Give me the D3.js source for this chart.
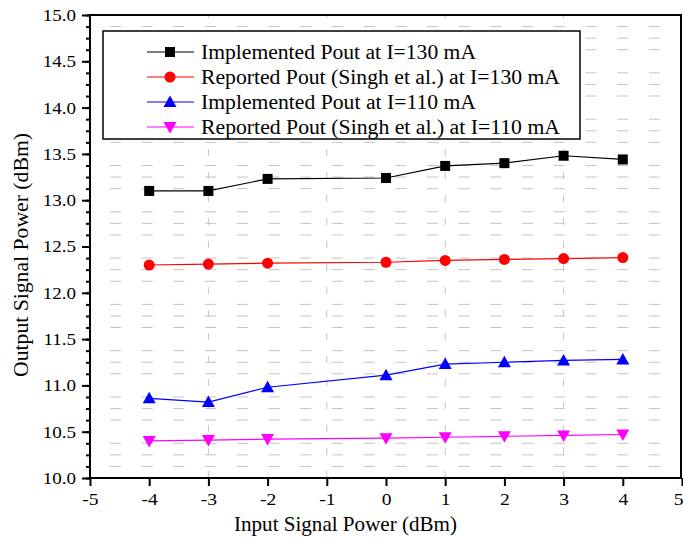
<!DOCTYPE html>
<html lang="en">
<head>
    <meta charset="UTF-8">
    <title>Output vs Input Signal Power</title>
    <script src="https://d3js.org/d3.v7.min.js"></script>
</head>
<style>
    body { margin: 0; background: #fff; }
    text { font-family: "Liberation Serif", "Times New Roman", serif; fill: #000; }
</style>
<body>
    <svg class="chart"></svg>
    <script>
        const W = 683, H = 539;

        // data
        const inputPower = [-4, -3, -2, 0, 1, 2, 3, 4];
        const impl130 = [13.10, 13.10, 13.23, 13.24, 13.37, 13.40, 13.48, 13.44];
        const singh130 = [12.30, 12.31, 12.32, 12.33, 12.35, 12.36, 12.37, 12.38];
        const impl110 = [10.86, 10.82, 10.98, 11.11, 11.23, 11.25, 11.27, 11.28];
        const singh110 = [10.40, 10.41, 10.42, 10.43, 10.44, 10.45, 10.46, 10.47];

        const seriesNames = [
            "Implemented Pout at I=130 mA",
            "Reported Pout (Singh et al.) at I=130 mA",
            "Implemented Pout at I=110 mA",
            "Reported Pout (Singh et al.) at I=110 mA"
        ];
        const xTicks = [-5, -4, -3, -2, -1, 0, 1, 2, 3, 4, 5];
        const yTicks = [10.0, 10.5, 11.0, 11.5, 12.0, 12.5, 13.0, 13.5, 14.0, 14.5, 15.0];

        const series = [
            { name: seriesNames[0], values: impl130, color: "#000000", shape: "square" },
            { name: seriesNames[1], values: singh130, color: "#ff0000", shape: "circle" },
            { name: seriesNames[2], values: impl110, color: "#0000ff", shape: "up" },
            { name: seriesNames[3], values: singh110, color: "#ff00ff", shape: "down" }
        ];

        const m = { left: 90, right: 1, top: 15, bottom: 61 };

        const svg = d3.select(".chart")
            .attr("width", W)
            .attr("height", H)
            .attr("viewBox", `0 0 ${W} ${H}`);

        const x = d3.scaleLinear().domain([-5, 5]).range([m.left, W - m.right]);
        const y = d3.scaleLinear().domain([10, 15]).range([H - m.bottom, m.top]);

        // stretch text horizontally a bit, like the original export
        function stretch(sel, k) {
            sel.each(function () {
                const n = this.getComputedTextLength();
                d3.select(this).attr("textLength", n * k).attr("lengthAdjust", "spacingAndGlyphs");
            });
        }

        // minor grid (dotted, light grey)
        const yMinor = d3.range(10, 15.0001, 0.125).filter(v => Math.abs(v * 2 - Math.round(v * 2)) > 1e-6);
        svg.append("g").selectAll("line")
            .data(yMinor)
            .join("line")
            .attr("x1", x(-5)).attr("x2", x(5))
            .attr("y1", d => y(d)).attr("y2", d => y(d))
            .attr("stroke", "#c4c4c4")
            .attr("stroke-width", 1)
            .attr("stroke-dasharray", "11 20.7")
            .attr("stroke-dashoffset", -20);

        svg.append("g").selectAll("line")
            .data([-3, -1, 1, 3])
            .join("line")
            .attr("x1", d => x(d)).attr("x2", d => x(d))
            .attr("y1", y(10)).attr("y2", y(15))
            .attr("stroke", "#c4c4c4")
            .attr("stroke-width", 1)
            .attr("stroke-dasharray", "7 16");

        // axes
        const xAxis = d3.axisBottom(x).tickValues(xTicks).tickFormat(d3.format("d")).tickSize(8).tickPadding(7);
        const gx = svg.append("g")
            .attr("transform", `translate(0,${y(10)})`)
            .call(xAxis);

        const yAxis = d3.axisLeft(y).tickValues(yTicks).tickFormat(d3.format(".1f")).tickSize(8).tickPadding(6);
        const gy = svg.append("g")
            .attr("transform", `translate(${x(-5)},0)`)
            .call(yAxis);

        svg.append("g")
            .attr("transform", `translate(${x(-5)},0)`)
            .call(d3.axisLeft(y).tickValues(d3.range(10, 15.0001, 0.125)).tickSize(4).tickFormat(""))
            .select(".domain").remove();

        [gx, gy].forEach(g => {
            g.select(".domain").remove();
            g.selectAll(".tick text")
                .style("font-family", '"Liberation Serif", serif')
                .style("font-size", "17px")
                .attr("fill", "#000");
        });
        svg.selectAll(".tick line").attr("stroke", "#000").attr("stroke-width", 2);
        gx.selectAll(".tick text").text(d => d < 0 ? "-" + Math.abs(d) : d);
        gx.selectAll(".tick text").filter(d => d === 5).attr("dx", -4);
        stretch(gx.selectAll(".tick text"), 1.15);
        stretch(gy.selectAll(".tick text"), 1.12);

        // frame
        svg.append("rect")
            .attr("x", x(-5)).attr("y", y(15))
            .attr("width", x(5) - x(-5) - 1).attr("height", y(10) - y(15))
            .attr("fill", "none")
            .attr("stroke", "#000")
            .attr("stroke-width", 2);

        // axis titles
        svg.append("text")
            .attr("x", 345.5)
            .attr("y", 531)
            .attr("text-anchor", "middle")
            .attr("textLength", 223)
            .attr("lengthAdjust", "spacingAndGlyphs")
            .style("font-size", "21px")
            .text("Input Signal Power (dBm)");

        svg.append("text")
            .attr("transform", "translate(28,255) rotate(-90)")
            .attr("text-anchor", "middle")
            .attr("textLength", 244)
            .attr("lengthAdjust", "spacingAndGlyphs")
            .style("font-size", "21px")
            .text("Output Signal Power (dBm)");

        // markers
        function drawMarker(g, shape, color, cx, cy) {
            if (shape === "square") {
                g.append("rect").attr("x", cx - 5).attr("y", cy - 5).attr("width", 10).attr("height", 10).attr("fill", color);
            } else if (shape === "circle") {
                g.append("circle").attr("cx", cx).attr("cy", cy).attr("r", 5.5).attr("fill", color);
            } else if (shape === "up") {
                g.append("path").attr("d", `M${cx},${cy - 6.5}L${cx + 6.5},${cy + 5}L${cx - 6.5},${cy + 5}Z`).attr("fill", color);
            } else {
                g.append("path").attr("d", `M${cx},${cy + 6.5}L${cx + 6.5},${cy - 5}L${cx - 6.5},${cy - 5}Z`).attr("fill", color);
            }
        }

        const line = d3.line().x(d => x(d[0])).y(d => y(d[1]));
        series.forEach(s => {
            const pts = inputPower.map((v, i) => [v, s.values[i]]);
            const g = svg.append("g");
            g.append("path")
                .attr("d", line(pts))
                .attr("fill", "none")
                .attr("stroke", s.color)
                .attr("stroke-width", 1.2);
            pts.forEach(p => drawMarker(g, s.shape, s.color, x(p[0]), y(p[1])));
        });

        // legend
        const legendWidths = [275, 359, 275, 359];
        const lg = svg.append("g");
        lg.append("rect")
            .attr("x", 103).attr("y", 31)
            .attr("width", 477).attr("height", 108)
            .attr("fill", "#fff")
            .attr("stroke", "#000")
            .attr("stroke-width", 1.5);
        series.forEach((s, i) => {
            const cy = 52 + i * 25;
            lg.append("line")
                .attr("x1", 147).attr("x2", 194)
                .attr("y1", cy).attr("y2", cy)
                .attr("stroke", s.color).attr("stroke-width", 1.2);
            drawMarker(lg, s.shape, s.color, 170, cy);
            lg.append("text")
                .attr("x", 201).attr("y", cy + 7)
                .attr("textLength", legendWidths[i])
                .attr("lengthAdjust", "spacingAndGlyphs")
                .style("font-size", "20px")
                .text(s.name);
        });
    </script>
</body>
</html>
